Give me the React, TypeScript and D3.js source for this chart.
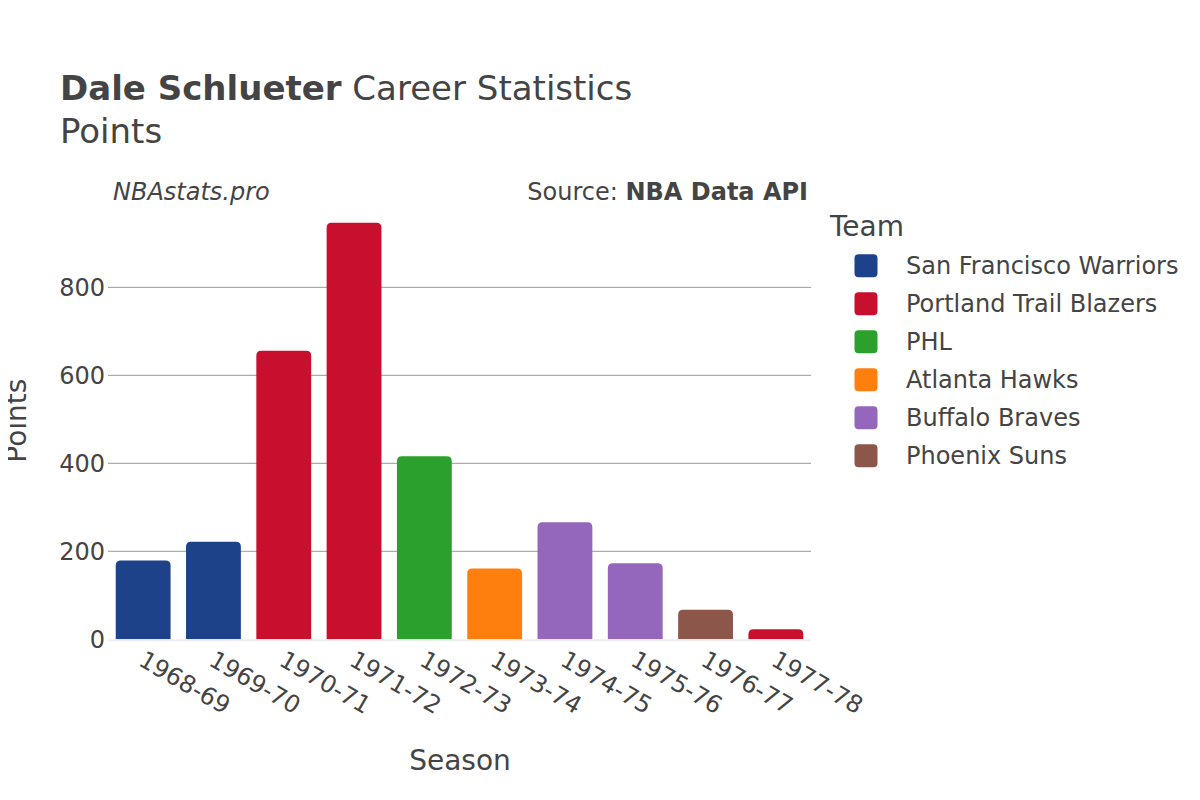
import * as d3 from 'd3';
import React, { useEffect, useRef } from 'react';

const seasons = ['1968-69', '1969-70', '1970-71', '1971-72', '1972-73', '1973-74', '1974-75', '1975-76', '1976-77', '1977-78'];
const points = [179, 222, 656, 947, 416, 161, 266, 173, 67, 23];
const seasonTeams = ['San Francisco Warriors', 'San Francisco Warriors', 'Portland Trail Blazers', 'Portland Trail Blazers', 'PHL', 'Atlanta Hawks', 'Buffalo Braves', 'Buffalo Braves', 'Phoenix Suns', 'Portland Trail Blazers'];
const teams = ['San Francisco Warriors', 'Portland Trail Blazers', 'PHL', 'Atlanta Hawks', 'Buffalo Braves', 'Phoenix Suns'];
const teamColors = ['#1d428a', '#c8102e', '#2ca02c', '#ff7f0e', '#9467bd', '#8c564b'];
const yTicks = [0, 200, 400, 600, 800];

const W = 1200, H = 800;
const FONT = '"DejaVu Sans", sans-serif';
const TXT = '#444';

const App = () => {
  const ref = useRef<SVGSVGElement>(null);

  useEffect(() => {
    const svg = d3.select(ref.current);
    svg.selectAll('*').remove();

    const left = 108, right = 811, top = 202, bottom = 639.3;
    const x = d3.scaleBand().domain(seasons).range([left, right]).paddingInner(0.22).paddingOuter(0.11);
    const y = d3.scaleLinear().domain([0, 994]).range([bottom, top]);
    const color = d3.scaleOrdinal<string, string>().domain(teams).range(teamColors);

    svg.append('rect').attr('width', W).attr('height', H).attr('fill', 'white');

    // grid
    const grid = svg.append('g');
    grid.selectAll('line').data(yTicks.filter(d => d > 0)).enter().append('line')
      .attr('x1', left).attr('x2', right)
      .attr('y1', d => y(d)).attr('y2', d => y(d))
      .attr('stroke', '#999').attr('stroke-width', 1);

    // y tick labels
    svg.append('g').selectAll('text').data(yTicks).enter().append('text')
      .attr('x', left - 3).attr('y', d => y(d)).attr('dy', '0.35em')
      .attr('text-anchor', 'end').attr('font-family', FONT).attr('font-size', 24).attr('fill', TXT)
      .text(d => d);

    // bars with rounded tops
    const r = 5;
    svg.append('g').selectAll('path').data(seasons).enter().append('path')
      .attr('d', (s, i) => {
        const x0 = x(s)!, w = x.bandwidth(), y0 = y(points[i]), y1 = y(0);
        const rr = Math.min(r, (y1 - y0));
        return `M${x0},${y1}V${y0 + rr}Q${x0},${y0} ${x0 + rr},${y0}H${x0 + w - rr}Q${x0 + w},${y0} ${x0 + w},${y0 + rr}V${y1}Z`;
      })
      .attr('fill', (s, i) => color(seasonTeams[i]));

    // zero line
    svg.append('line').attr('x1', left).attr('x2', right).attr('y1', y(0) + 1).attr('y2', y(0) + 1)
      .attr('stroke', '#eee').attr('stroke-width', 2);

    // x tick labels
    svg.append('g').selectAll('text').data(seasons).enter().append('text')
      .attr('transform', s => `translate(${x(s)! + x.bandwidth() / 2 + 3},${649}) rotate(30)`)
      .attr('dy', '0.75em')
      .attr('font-family', FONT).attr('font-size', 24).attr('fill', TXT)
      .text(s => s);

    // axis titles
    svg.append('text').attr('x', 460).attr('y', 770).attr('text-anchor', 'middle')
      .attr('font-family', FONT).attr('font-size', 28).attr('fill', TXT).text('Season');
    svg.append('text').attr('transform', `translate(26,${(top + bottom) / 2 + 0}) rotate(-90)`)
      .attr('text-anchor', 'middle').attr('font-family', FONT).attr('font-size', 28).attr('fill', TXT).text('Points');

    // titles
    const t = svg.append('text').attr('x', 60).attr('y', 100).attr('font-family', FONT).attr('font-size', 34).attr('fill', TXT);
    t.append('tspan').attr('font-weight', 'bold').text('Dale Schlueter');
    t.append('tspan').text(' Career Statistics');
    svg.append('text').attr('x', 60).attr('y', 143).attr('font-family', FONT).attr('font-size', 34).attr('fill', TXT).text('Points');

    svg.append('text').attr('x', 113).attr('y', 200).attr('font-family', FONT).attr('font-size', 24)
      .attr('font-style', 'italic').attr('fill', TXT).text('NBAstats.pro');
    const src = svg.append('text').attr('x', 808).attr('y', 200).attr('text-anchor', 'end')
      .attr('font-family', FONT).attr('font-size', 24).attr('fill', TXT);
    src.append('tspan').text('Source: ');
    src.append('tspan').attr('font-weight', 'bold').text('NBA Data API');

    // legend
    svg.append('text').attr('x', 830).attr('y', 236).attr('font-family', FONT).attr('font-size', 28).attr('fill', TXT).text('Team');
    const lg = svg.append('g').selectAll('g').data(teams).enter().append('g')
      .attr('transform', (d, i) => `translate(0,${265.7 + i * 38})`);
    lg.append('rect').attr('x', 854.5).attr('y', -11.5).attr('width', 23).attr('height', 23).attr('rx', 4)
      .attr('fill', d => color(d));
    lg.append('text').attr('x', 906).attr('dy', '0.35em').attr('font-family', FONT).attr('font-size', 24)
      .attr('fill', TXT).text(d => d);
  }, []);

  return <svg ref={ref} width={W} height={H} style={{ display: 'block', margin: -8 }} />;
};

export default App;
